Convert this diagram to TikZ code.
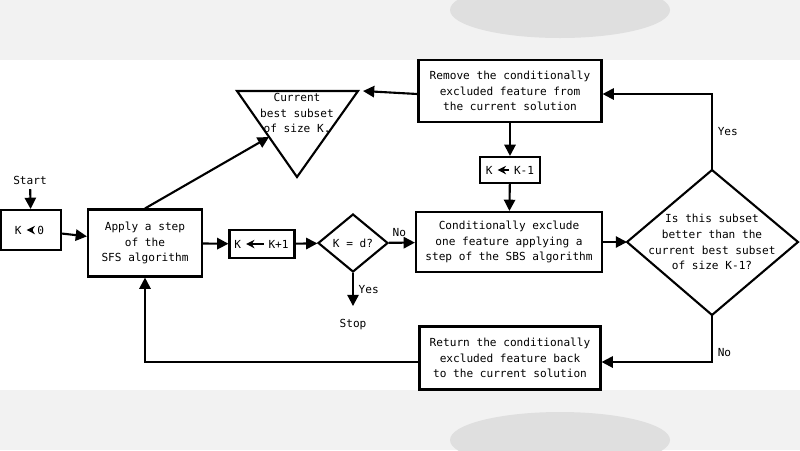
\documentclass[tikz,border=0pt]{standalone}
\usepackage{fontspec}
\setmonofont{DejaVu Sans Mono}
\usetikzlibrary{shapes.geometric,arrows.meta}
\newcommand\pxu{0.7112pt}
\begin{document}
\begin{tikzpicture}[x=0.025cm, y=-0.025cm,
    every node/.style={font=\ttfamily\fontsize{7.9}{11.2}\selectfont},
    box/.style={draw, line width=1.5pt, align=center, inner sep=0pt},
    flow/.style={-{Triangle[length=8pt,width=8pt]}, line width=1.5pt},
    assign/.style={-{Stealth[length=6pt,width=6pt]}, line width=1.5pt}]
    % Hintergrund
    \useasboundingbox (0,0) rectangle (800,450);
    \fill[gray!10] (0,0) rectangle (800,60);
    \fill[gray!10] (0,390) rectangle (800,450);
    \fill[gray!25] (560,10) ellipse (110 and 28);
    \fill[gray!25] (560,440) ellipse (110 and 28);

    % Kästchen
    \node (start) at (30,180) {Start};
    \node[box, minimum width=60*\pxu, minimum height=40*\pxu] (init) at (31,230) {};
    \node[box, minimum width=114*\pxu, minimum height=67*\pxu] (sfs) at (145,243) {Apply a step\\of the\\SFS algorithm};
    \node[box, minimum width=65*\pxu, minimum height=28*\pxu] (inc) at (262,244) {};
    \node[box, diamond, minimum width=70*\pxu, minimum height=58*\pxu] (test) at (353,243) {K = d?};
    \node (stop) at (353,325) {Stop};
    \node[box, minimum width=186*\pxu, minimum height=60*\pxu] (sbs) at (509,242) {Conditionally exclude\\one feature applying a\\step of the SBS algorithm};
    \node[box, minimum width=183*\pxu, minimum height=62*\pxu] (remove) at (510,91) {Remove the conditionally\\excluded feature from\\the current solution};
    \node[box, minimum width=60*\pxu, minimum height=26*\pxu] (dec) at (510,170) {};
    \node[box, minimum width=181*\pxu, minimum height=63*\pxu] (return) at (510,358) {Return the conditionally\\excluded feature back\\to the current solution};

    % Raute
    \coordinate (bn) at (712,170);
    \coordinate (be) at (798,242);
    \coordinate (bs) at (712,315);
    \coordinate (bw) at (627,242);
    \draw[line width=1.5pt] (bn) -- (be) -- (bs) -- (bw) -- cycle;
    \node[align=center] (better) at (712,242) {Is this subset\\better than the\\current best subset\\of size K-1?};

    % Zuweisungen
    \node[anchor=west] (k0) at ([xshift=10*\pxu]init.west) {K};
    \node[anchor=east] (v0) at ([xshift=-13*\pxu]init.east) {0};
    \draw[assign] (v0.west) -- (k0.east);
    \node[anchor=west] (k1) at ([xshift=1*\pxu]inc.west) {K};
    \node[anchor=east] (v1) at ([xshift=-2*\pxu]inc.east) {K+1};
    \draw[assign] (v1.west) -- (k1.east);
    \node[anchor=west] (k2) at ([xshift=2*\pxu]dec.west) {K};
    \node[anchor=east] (v2) at ([xshift=-2*\pxu]dec.east) {K-1};
    \draw[assign] (v2.west) -- (k2.east);

    % Dreieck
    \coordinate (t1) at (237,91);
    \coordinate (t2) at (358,91);
    \coordinate (t3) at (297,177);
    \draw[line width=1.5pt] (t1) -- (t2) -- (t3) -- cycle;
    \node[align=center] (best) at (297,113) {Current\\best subset\\of size K.};
    \coordinate (tl) at (269,137);
    \coordinate (tr) at (363,91);

    % Pfeile
    \draw[flow] (start) -- (init);
    \draw[flow] (init) -- (sfs);
    \draw[flow] (sfs) -- (inc);
    \draw[flow] (inc) -- (test);
    \draw[flow] (test) -- node[above, pos=0.4] {No} (sbs);
    \draw[flow] (test.south) -- node[right] {Yes} ([yshift=-33*\pxu]test.south);
    \draw[flow] (sbs) -- (bw);
    \draw[flow] (bn) |- node[pos=0.25, right] {Yes} ([yshift=-3*\pxu]remove.east);
    \draw[flow] (remove) -- (dec);
    \draw[flow] (dec) -- (sbs);
    \draw[flow] ([yshift=-3*\pxu]remove.west) -- (tr);
    \draw[flow] (sfs.north) -- (tl);
    \draw[flow] (bs) |- node[pos=0.4, right] {No} ([yshift=-4*\pxu]return.east);
    \draw[flow] ([yshift=-4*\pxu]return.west) -| (sfs.south);
\end{tikzpicture}
\end{document}
